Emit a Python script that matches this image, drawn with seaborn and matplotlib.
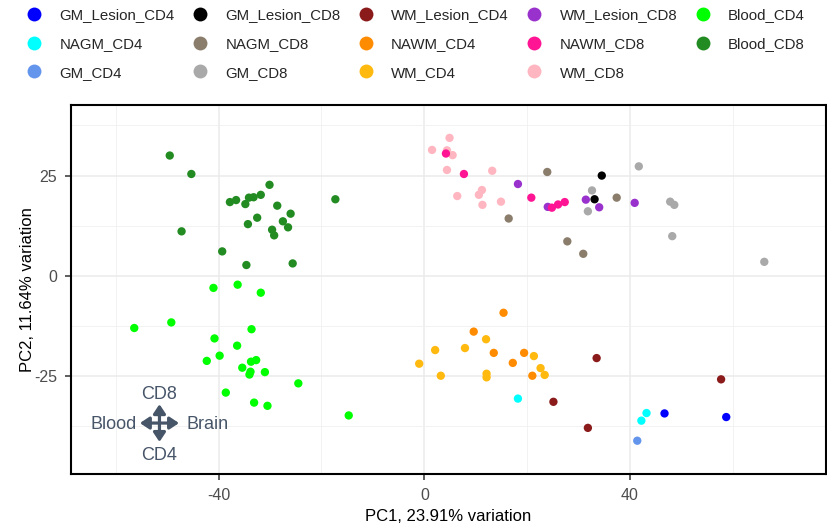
import matplotlib
matplotlib.use("Agg")
import matplotlib.pyplot as plt
from matplotlib.lines import Line2D
from matplotlib.ticker import FixedLocator
import pandas as pd
import seaborn as sns

# PCA scores per sample group (PC1, PC2)
gm_lesion_cd4_x = [46.7, 58.7]
gm_lesion_cd4_y = [-34.3, -35.2]
nagm_cd4_x = [18.2, 43.2, 42.2]
nagm_cd4_y = [-30.6, -34.2, -36.1]
gm_cd4_x = [41.4]
gm_cd4_y = [-41.1]

gm_lesion_cd8_x = [34.5, 33.1]
gm_lesion_cd8_y = [25.0, 19.1]
nagm_cd8_x = [23.9, 16.4, 37.4, 27.8, 30.9]
nagm_cd8_y = [25.9, 14.3, 19.5, 8.6, 5.5]
gm_cd8_x = [41.7, 32.6, 31.8, 47.8, 48.6, 48.2, 66.1]
gm_cd8_y = [27.3, 21.3, 16.1, 18.5, 17.7, 9.9, 3.5]

wm_lesion_cd4_x = [33.5, 25.1, 31.8, 57.7]
wm_lesion_cd4_y = [-20.5, -31.4, -37.9, -25.8]
nawm_cd4_x = [15.4, 9.6, 13.5, 19.4, 17.2, 21.0]
nawm_cd4_y = [-9.2, -13.9, -19.2, -19.2, -21.7, -24.9]
wm_cd4_x = [-1.0, 2.1, 3.2, 7.9, 12.0, 12.1, 12.1, 21.3, 22.6, 23.4]
wm_cd4_y = [-21.9, -18.5, -24.9, -18.0, -15.8, -24.4, -25.3, -20.0, -23.0, -24.7]

wm_lesion_cd8_x = [18.2, 24.0, 31.4, 34.0, 40.9]
wm_lesion_cd8_y = [22.9, 17.2, 19.0, 17.1, 18.2]
wm_cd8_x = [4.9, 1.5, 4.4, 5.5, 4.4, 13.2, 6.4, 10.6, 11.2, 11.3, 14.9]
wm_cd8_y = [34.4, 31.4, 31.3, 30.1, 26.4, 26.2, 19.9, 20.2, 21.4, 17.7, 18.5]
nawm_cd8_x = [4.2, 7.7, 20.8, 24.8, 26.0, 27.3]
nawm_cd8_y = [30.5, 25.4, 19.5, 17.0, 17.8, 18.4]

blood_cd4_x = [-41.0, -36.3, -31.8, -56.4, -49.2, -33.6, -40.8, -36.4, -42.3, -39.8, -33.7,
               -32.7, -35.4, -33.8, -34.0, -31.0, -24.5, -38.6, -33.1, -30.5, -14.7]
blood_cd4_y = [-3.0, -2.2, -4.2, -13.0, -11.6, -13.3, -15.6, -17.4, -21.2, -19.9, -21.4,
               -21.0, -22.9, -23.9, -24.6, -24.0, -26.8, -29.1, -31.6, -32.4, -34.8]
blood_cd8_x = [-49.5, -45.3, -47.2, -39.3, -34.6, -25.6, -37.8, -36.6, -34.8, -34.1, -33.2,
               -31.8, -30.1, -28.6, -26.0, -32.5, -34.3, -27.5, -26.5, -29.6, -29.2, -17.3]
blood_cd8_y = [30.0, 25.4, 11.1, 6.1, 2.7, 3.1, 18.4, 18.9, 17.9, 19.5, 19.6,
               20.2, 22.7, 17.5, 15.5, 14.5, 12.9, 13.6, 12.1, 11.5, 10.1, 19.1]

# legend order (column-wise, 3 rows x 5 columns)
group_names = ["GM_Lesion_CD4", "NAGM_CD4", "GM_CD4",
               "GM_Lesion_CD8", "NAGM_CD8", "GM_CD8",
               "WM_Lesion_CD4", "NAWM_CD4", "WM_CD4",
               "WM_Lesion_CD8", "NAWM_CD8", "WM_CD8",
               "Blood_CD4", "Blood_CD8"]
group_colors = ["#0000FF", "#00FFFF", "#6495ED",
                "#000000", "#8B7D6B", "#A9A9A9",
                "#8B1A1A", "#FF8C00", "#FFB90F",
                "#9932CC", "#FF1493", "#FFB6C1",
                "#00FF00", "#228B22"]
group_x = [gm_lesion_cd4_x, nagm_cd4_x, gm_cd4_x,
           gm_lesion_cd8_x, nagm_cd8_x, gm_cd8_x,
           wm_lesion_cd4_x, nawm_cd4_x, wm_cd4_x,
           wm_lesion_cd8_x, nawm_cd8_x, wm_cd8_x,
           blood_cd4_x, blood_cd8_x]
group_y = [gm_lesion_cd4_y, nagm_cd4_y, gm_cd4_y,
           gm_lesion_cd8_y, nagm_cd8_y, gm_cd8_y,
           wm_lesion_cd4_y, nawm_cd4_y, wm_cd4_y,
           wm_lesion_cd8_y, nawm_cd8_y, wm_cd8_y,
           blood_cd4_y, blood_cd8_y]

x_ticks = [-40, 0, 40]
y_ticks = [-25, 0, 25]
x_label = "PC1, 23.91% variation"
y_label = "PC2, 11.64% variation"

rows = []
for name, xs, ys in zip(group_names, group_x, group_y):
    for xv, yv in zip(xs, ys):
        rows.append({"PC1": xv, "PC2": yv, "Group": name})
df = pd.DataFrame(rows)
# draw light pink before the deep pink ones so overlaps look right
draw_order = ["WM_CD8"] + [g for g in group_names if g != "WM_CD8"]
df["Group"] = pd.Categorical(df["Group"], categories=draw_order, ordered=True)
df = df.sort_values("Group", kind="stable")
df["Group"] = df["Group"].astype(str)

sns.set_theme(style="white")
plt.rcParams["font.family"] = ["Liberation Sans", "DejaVu Sans"]

W, H = 828, 531
fig = plt.figure(figsize=(W / 100, H / 100), dpi=100)
ax_l, ax_r, ax_t, ax_b = 71, 825.5, 105, 474
ax = fig.add_axes([ax_l / W, (H - ax_b) / H, (ax_r - ax_l) / W, (ax_b - ax_t) / H])

palette = dict(zip(group_names, group_colors))
sns.scatterplot(data=df, x="PC1", y="PC2", hue="Group", palette=palette,
                s=36, linewidth=0, legend=False, ax=ax, zorder=3)

ax.set_xlim(-68.7, 78.0)
ax.set_ylim(-49.4, 42.6)
ax.xaxis.set_major_locator(FixedLocator(x_ticks))
ax.yaxis.set_major_locator(FixedLocator(y_ticks))
ax.xaxis.set_minor_locator(FixedLocator([-60, -20, 20, 60]))
ax.yaxis.set_minor_locator(FixedLocator([-37.5, -12.5, 12.5, 37.5]))
ax.grid(which="major", color="#EBEBEB", linewidth=1.1, zorder=0)
ax.grid(which="minor", color="#F0F0F0", linewidth=0.6, zorder=0)
ax.set_axisbelow(True)

for sp in ax.spines.values():
    sp.set_visible(True)
    sp.set_color("black")
    sp.set_linewidth(1.5)

ax.tick_params(axis="both", which="major", bottom=True, left=True, length=4,
               width=1.1, color="#333333", labelsize=11.5, labelcolor="#4D4D4D")
ax.tick_params(axis="x", which="major", pad=6)
ax.tick_params(axis="y", which="major", pad=6)
ax.tick_params(axis="both", which="minor", bottom=False, left=False)
ax.set_xticklabels([str(t) for t in x_ticks])
ax.set_yticklabels([str(t) for t in y_ticks])

ax.set_xlabel(x_label, fontsize=12, color="black", labelpad=4.5)
ax.set_ylabel(y_label, fontsize=12, color="black", labelpad=-0.5)

# orientation key: Blood <-> Brain along PC1, CD4 <-> CD8 along PC2
key_color = "#475569"
cx, cy = -51.5, -36.7
arrow_style = "<|-|>,head_length=0.45,head_width=0.3"
ax.annotate("", xy=(cx + 3.8, cy), xytext=(cx - 3.8, cy),
            arrowprops=dict(arrowstyle=arrow_style, color=key_color, lw=2.3,
                            mutation_scale=12, shrinkA=0, shrinkB=0), zorder=4)
ax.annotate("", xy=(cx, cy + 4.7), xytext=(cx, cy - 4.7),
            arrowprops=dict(arrowstyle=arrow_style, color=key_color, lw=2.3,
                            mutation_scale=12, shrinkA=0, shrinkB=0), zorder=4)
ax.text(cx, -29.6, "CD8", color=key_color, fontsize=13, ha="center", va="center", zorder=4)
ax.text(cx, -44.9, "CD4", color=key_color, fontsize=13, ha="center", va="center", zorder=4)
ax.text(-55.9, -37.1, "Blood", color=key_color, fontsize=13, ha="right", va="center", zorder=4)
ax.text(-46.3, -37.1, "Brain", color=key_color, fontsize=13, ha="left", va="center", zorder=4)

handles = [Line2D([], [], marker="o", linestyle="", markersize=10,
                  markerfacecolor=c, markeredgewidth=0)
           for c in group_colors]
fig.legend(handles, group_names, loc="upper left",
           bbox_to_anchor=(26.5 / W, 1 - 8.5 / H), ncol=5, frameon=False,
           fontsize=10.8, handlelength=1.0, handletextpad=1.19,
           columnspacing=1.19, labelspacing=0.97, borderpad=0, borderaxespad=0)

fig.savefig("out.png", dpi=100)
